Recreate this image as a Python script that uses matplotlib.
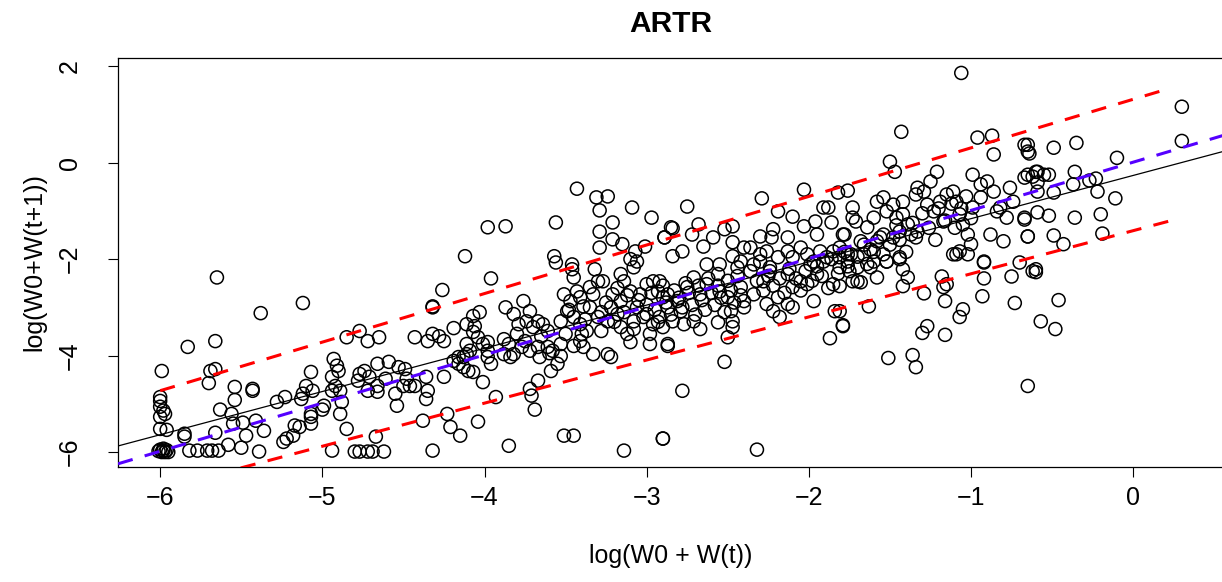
import numpy as np
import matplotlib.pyplot as plt

plt.rcParams["font.family"] = ["Liberation Sans", "DejaVu Sans"]
plt.rcParams["lines.scale_dashes"] = False

title = "ARTR"
x_label = "log(W0 + W(t))"
y_label = "log(W0+W(t+1))"
x_ticks = [-6, -5, -4, -3, -2, -1, 0]
y_ticks = [-6, -4, -2, 0, 2]

# (intercept, slope) of the fitted lines
ols_fit = (-0.265, 0.896)
median_fit = (0.010, 0.999)
upper_fit = (1.314, 1.007)
lower_fit = (-1.41, 0.894)
band_range = (-6.0, 0.23)

obs_far_left = [
    (-5.65, -2.38), (-5.38, -3.12), (-5.12, -2.91), (-5.83, -3.82), (-5.66, -3.70), (-5.99, -4.32),
    (-5.69, -4.32), (-5.66, -4.28), (-5.70, -4.57),
    (-6.0, -4.86), (-6.0, -4.94), (-6.0, -5.06), (-5.98, -5.14), (-6.0, -5.27), (-5.97, -5.21),
    (-6.0, -5.52), (-5.96, -5.54),
    (-6.0, -5.95), (-5.99, -6.0), (-5.98, -5.97), (-5.97, -6.0), (-5.96, -5.96), (-5.95, -6.0),
    (-6.01, -5.98), (-5.98, -5.93),
    (-5.85, -5.62), (-5.85, -5.68),
    (-5.82, -5.97), (-5.77, -5.97), (-5.71, -5.97), (-5.68, -5.97), (-5.64, -5.97),
    (-5.66, -5.60), (-5.63, -5.12),
    (-5.56, -5.21), (-5.55, -5.41), (-5.54, -4.65), (-5.54, -4.92), (-5.49, -5.39), (-5.47, -5.66),
    (-5.58, -5.85), (-5.50, -5.91),
    (-5.43, -4.69), (-5.43, -4.73),
    (-5.41, -5.35), (-5.36, -5.56), (-5.39, -5.99),
    (-5.28, -4.96), (-5.23, -4.86),
    (-5.24, -5.79), (-5.22, -5.72), (-5.18, -5.66), (-5.17, -5.45),
    (-5.13, -4.90), (-5.10, -4.63), (-5.07, -4.34), (-5.07, -5.27), (-5.07, -5.41),
    (-5.06, -4.73), (-5.12, -4.79), (-5.07, -5.21), (-5.14, -5.48),
]

obs_left = [
    (-4.12, -1.94), (-3.96, -2.40), (-4.26, -2.64), (-4.32, -2.98), (-4.32, -3.0),
    (-4.85, -3.62), (-4.77, -3.49), (-4.72, -3.70), (-4.65, -3.62),
    (-4.43, -3.62), (-4.35, -3.70), (-4.32, -3.55), (-4.28, -3.60), (-4.25, -3.70), (-4.19, -3.43),
    (-4.11, -3.35), (-4.07, -3.18), (-4.03, -3.10), (-4.06, -3.39), (-4.07, -3.51), (-4.04, -3.62),
    (-4.01, -3.76), (-3.98, -3.72), (-3.98, -3.90),
    (-4.93, -4.07), (-4.91, -4.21), (-4.90, -4.32), (-4.94, -4.44),
    (-4.94, -4.73), (-4.92, -4.63), (-4.89, -4.73), (-4.88, -4.96), (-4.89, -5.21), (-4.99, -5.04),
    (-5.0, -5.12), (-4.85, -5.52), (-4.94, -5.97),
    (-4.78, -4.52), (-4.77, -4.38), (-4.74, -4.32), (-4.66, -4.17), (-4.59, -4.13), (-4.71, -4.44),
    (-4.66, -4.63), (-4.72, -4.73), (-4.66, -4.75), (-4.61, -4.48), (-4.55, -4.79), (-4.53, -4.24),
    (-4.49, -4.28), (-4.48, -4.48), (-4.50, -4.63), (-4.46, -4.63), (-4.43, -4.63), (-4.54, -5.04),
    (-4.67, -5.68), (-4.80, -5.99), (-4.77, -5.99), (-4.72, -5.99), (-4.69, -5.99), (-4.62, -5.99),
    (-4.36, -4.44), (-4.35, -4.73), (-4.36, -4.90), (-4.25, -4.44), (-4.38, -5.35), (-4.23, -5.21),
    (-4.21, -5.48), (-4.15, -5.66), (-4.04, -5.37), (-4.32, -5.97),
    (-4.19, -4.11), (-4.16, -4.17), (-4.13, -4.24), (-4.10, -4.32), (-4.07, -4.34), (-4.01, -4.55),
    (-3.98, -4.03), (-3.96, -4.17), (-3.93, -4.86),
    (-4.11, -3.76), (-4.09, -3.90), (-4.11, -3.97), (-4.13, -4.03), (-4.16, -4.03),
]

obs_mid_left = [
    (-3.98, -1.34), (-3.87, -1.32), (-3.56, -1.24), (-3.43, -0.54),
    (-3.31, -0.72), (-3.24, -0.70), (-3.29, -0.99), (-3.21, -1.24), (-3.29, -1.43), (-3.29, -1.76),
    (-3.21, -1.59), (-3.15, -1.69), (-3.09, -0.93), (-2.97, -1.14), (-2.85, -1.34), (-2.89, -1.55),
    (-3.57, -1.94), (-3.56, -2.07), (-3.46, -2.11), (-3.07, -1.84), (-3.01, -1.74), (-3.10, -2.0),
    (-2.84, -1.94),
    (-3.46, -2.21), (-3.45, -2.38), (-3.32, -2.21), (-3.16, -2.31), (-3.08, -2.17), (-3.06, -2.05),
    (-3.85, -5.87),
    (-3.87, -3.0), (-3.82, -3.14), (-3.76, -2.87), (-3.72, -3.08), (-3.79, -3.35), (-3.74, -3.29),
    (-3.70, -3.41), (-3.67, -3.29), (-3.64, -3.35), (-3.61, -3.49),
    (-3.88, -3.66), (-3.85, -3.76), (-3.88, -3.97), (-3.84, -4.03), (-3.82, -3.97), (-3.77, -3.82),
    (-3.72, -3.90), (-3.67, -3.82), (-3.61, -3.82), (-3.66, -4.03), (-3.58, -3.90), (-3.53, -3.76),
    (-3.53, -4.01), (-3.59, -4.32), (-3.55, -4.17), (-3.67, -4.52), (-3.72, -4.69), (-3.71, -4.83),
    (-3.69, -5.12),
    (-3.51, -5.66), (-3.45, -5.66), (-3.14, -5.97), (-2.90, -5.72),
    (-3.51, -2.73), (-3.47, -2.87), (-3.49, -3.08), (-3.53, -3.29), (-3.43, -2.67), (-3.41, -2.79),
    (-3.39, -2.98), (-3.45, -3.20), (-3.41, -3.35), (-3.35, -2.58), (-3.33, -2.73), (-3.35, -3.0),
    (-3.30, -3.20), (-3.37, -3.49), (-3.41, -3.70), (-3.39, -3.82), (-3.33, -3.97), (-3.24, -3.97),
    (-3.22, -4.03), (-3.28, -3.49), (-3.24, -3.29), (-3.22, -3.0), (-3.21, -2.73), (-3.16, -2.87),
    (-3.18, -3.14), (-3.16, -3.41), (-3.12, -3.55), (-3.10, -3.72), (-3.08, -3.29), (-3.06, -3.0),
    (-3.04, -2.73), (-3.0, -2.52), (-2.96, -2.46), (-2.93, -2.67), (-2.90, -2.79), (-2.87, -3.0),
    (-2.92, -3.20), (-2.96, -3.35), (-2.98, -3.55), (-2.98, -3.76), (-2.87, -3.76), (-3.0, -3.14),
    (-3.10, -2.67), (-3.14, -2.46), (-3.27, -2.46), (-3.30, -2.46),
    (-3.80, -3.55), (-3.75, -3.70), (-3.65, -3.60), (-3.60, -3.95), (-3.50, -3.55), (-3.45, -3.80),
    (-3.40, -3.55), (-3.38, -3.25), (-3.48, -3.05),
]

obs_core = [
    (-3.28, -3.10), (-3.25, -2.90), (-3.20, -3.30), (-3.18, -2.60), (-3.14, -3.10), (-3.12, -2.75),
    (-3.08, -3.45), (-3.05, -2.85), (-3.02, -3.20), (-3.00, -2.95), (-2.97, -2.70), (-2.95, -3.05),
    (-2.93, -3.30), (-2.90, -2.55), (-2.88, -2.90), (-2.85, -3.15), (-2.83, -2.65), (-2.80, -2.80),
    (-2.78, -3.00), (-2.76, -2.50), (-2.74, -2.70), (-2.72, -2.95), (-2.70, -3.15), (-2.68, -2.55),
    (-2.66, -2.85), (-2.64, -3.05), (-2.62, -2.40), (-2.60, -2.70), (-2.58, -2.95), (-2.56, -2.55),
    (-2.54, -2.80), (-2.52, -3.10), (-2.50, -2.45), (-2.48, -2.65), (-2.46, -2.90), (-2.44, -2.35),
    (-2.42, -2.75), (-2.40, -3.00),
    (-2.32, -2.45), (-2.28, -2.65), (-2.25, -2.35), (-2.22, -2.55), (-2.18, -2.40), (-2.15, -2.70),
    (-2.12, -2.20), (-2.08, -2.40), (-2.05, -2.65), (-2.02, -2.25), (-1.98, -2.45), (-1.95, -2.15),
    (-1.92, -2.35), (-1.88, -2.60), (-1.86, -2.00), (-1.82, -2.30), (-1.78, -1.85), (-1.75, -2.25),
    (-1.70, -1.95), (-1.66, -1.70), (-1.64, -2.10), (-1.60, -1.85), (-1.56, -1.55), (-1.54, -1.90),
    (-1.50, -1.70), (-1.46, -1.30), (-1.44, -1.60), (-1.40, -1.85), (-1.36, -1.25), (-1.34, -1.55),
    (-1.30, -1.05), (-1.26, -1.35), (-1.22, -1.60), (-1.20, -0.95), (-1.16, -1.20), (-1.12, -0.85),
    (-1.10, -1.35), (-1.06, -0.95), (-1.03, -0.70), (-1.00, -1.15),
]

obs_mid = [
    (-2.75, -0.91), (-2.29, -0.74), (-2.03, -0.56), (-1.82, -0.62), (-1.76, -0.58),
    (-2.84, -1.36), (-2.89, -1.55), (-2.72, -1.49), (-2.68, -1.28), (-2.59, -1.55), (-2.65, -1.74),
    (-2.52, -1.38), (-2.47, -1.32), (-2.78, -1.84), (-2.47, -1.65), (-2.47, -1.94),
    (-2.19, -1.01), (-2.10, -1.12), (-2.30, -1.53), (-2.22, -1.38), (-2.23, -1.55), (-2.13, -1.55),
    (-2.03, -1.32), (-1.96, -1.22), (-1.91, -0.93), (-1.88, -0.93), (-1.86, -1.24), (-1.79, -1.49),
    (-1.95, -1.49), (-1.73, -0.93), (-1.71, -1.22),
    (-2.40, -1.76), (-2.36, -1.76), (-2.30, -1.90), (-2.26, -1.84), (-2.19, -1.96), (-2.13, -1.84),
    (-2.10, -1.96), (-2.05, -1.76), (-2.01, -1.90), (-1.97, -2.05), (-1.93, -1.84), (-1.89, -1.96),
    (-1.85, -1.84), (-1.81, -1.96), (-1.76, -1.90), (-2.63, -2.11), (-2.55, -2.11), (-2.42, -2.05),
    (-2.34, -2.11), (-2.24, -2.17),
    (-2.92, -2.46), (-2.87, -2.73), (-2.90, -3.41), (-2.87, -3.80), (-2.84, -3.29), (-2.79, -3.08),
    (-2.77, -3.35), (-2.71, -3.29), (-2.67, -3.45), (-2.81, -2.87), (-2.75, -2.58), (-2.71, -2.38),
    (-2.67, -2.73), (-2.63, -2.52), (-2.56, -2.31), (-2.55, -2.67), (-2.50, -2.79),
    (-2.56, -3.31), (-2.48, -3.08), (-2.47, -3.29), (-2.47, -3.41), (-2.50, -3.62), (-2.42, -2.58),
    (-2.40, -2.87), (-2.36, -2.25), (-2.34, -2.73), (-2.30, -2.05), (-2.28, -2.46), (-2.26, -2.93),
    (-2.22, -3.08), (-2.19, -2.79), (-2.18, -3.20), (-2.13, -2.93), (-2.10, -3.0), (-2.13, -2.31),
    (-2.10, -2.58), (-2.05, -2.46), (-2.01, -2.52), (-1.97, -2.87), (-1.95, -2.31), (-1.91, -2.05),
    (-1.85, -2.52), (-1.81, -2.17), (-1.76, -2.05), (-1.73, -2.46), (-1.99, -2.11), (-2.24, -2.25),
    (-2.44, -2.17),
    (-2.52, -4.13), (-2.78, -4.73), (-2.90, -5.72), (-2.32, -5.95),
    (-1.84, -3.08), (-1.79, -3.37), (-1.87, -3.64),
]

obs_right = [
    (-1.06, 1.86), (-1.43, 0.64), (-1.50, 0.02), (-1.47, -0.19),
    (-0.96, 0.52), (-0.87, 0.56), (-0.86, 0.17), (-0.67, 0.37), (-0.65, 0.23),
    (-1.73, -1.14), (-1.78, -1.49), (-1.64, -1.34), (-1.60, -1.14), (-1.58, -0.81), (-1.54, -0.72),
    (-1.52, -1.01), (-1.48, -0.87), (-1.46, -1.14), (-1.42, -0.81), (-1.42, -1.07), (-1.39, -1.28),
    (-1.44, -1.43), (-1.48, -1.55), (-1.54, -1.49), (-1.58, -1.63), (-1.62, -1.80), (-1.68, -1.63),
    (-1.74, -1.90), (-1.81, -1.76), (-1.66, -1.90), (-1.60, -2.05), (-1.52, -2.05), (-1.44, -1.96),
    (-1.37, -1.49), (-1.33, -1.43), (-1.33, -0.52), (-1.34, -0.66), (-1.29, -0.60), (-1.25, -0.39),
    (-1.21, -0.19), (-1.27, -0.87), (-1.23, -1.01), (-1.19, -0.81), (-1.17, -1.22), (-1.15, -0.66),
    (-1.11, -0.60), (-1.09, -0.81), (-1.07, -1.07), (-1.05, -1.28), (-1.02, -1.49), (-1.0, -1.69),
    (-1.07, -1.84), (-1.11, -1.90), (-0.99, -0.25), (-0.94, -0.45), (-0.90, -0.39), (-0.86, -0.60),
    (-0.82, -0.93), (-0.78, -1.14), (-0.76, -0.52), (-0.74, -0.81), (-0.84, -1.01), (-0.88, -1.49),
    (-0.80, -1.63), (-0.67, -1.14), (-0.65, -1.53), (-0.92, -2.05), (-0.94, -0.72), (-0.99, -0.93),
    (-1.76, -2.15), (-1.70, -2.17), (-1.70, -2.46), (-1.68, -2.48), (-1.62, -2.17), (-1.58, -2.38),
    (-1.52, -2.05), (-1.44, -2.0), (-1.42, -2.21), (-1.39, -2.38), (-1.81, -2.56), (-1.42, -2.56),
    (-1.81, -3.08), (-1.79, -3.39), (-1.63, -2.98), (-1.29, -2.71), (-1.18, -2.36), (-1.15, -2.52),
    (-1.17, -2.58), (-1.16, -2.87), (-1.07, -3.20), (-1.05, -3.04), (-1.27, -3.39), (-1.30, -3.53),
    (-1.16, -3.57), (-1.51, -4.05), (-1.36, -3.99), (-1.34, -4.24), (-0.92, -2.07), (-0.92, -2.40),
    (-0.93, -2.77), (-0.75, -2.36), (-0.70, -2.07), (-0.73, -2.91), (-0.62, -2.25), (-0.65, -4.63),
    (-1.09, -1.90), (-1.02, -1.90),
]

obs_far_right = [
    (0.30, 1.16), (0.30, 0.45), (-0.10, 0.10),
    (-0.65, 0.37), (-0.64, 0.19), (-0.49, 0.31), (-0.35, 0.41),
    (-0.59, -0.19), (-0.62, -0.29), (-0.55, -0.25), (-0.52, -0.25), (-0.59, -0.41), (-0.59, -0.60),
    (-0.49, -0.62), (-0.36, -0.19), (-0.37, -0.45), (-0.27, -0.37), (-0.23, -0.33), (-0.22, -0.60),
    (-0.11, -0.74), (-0.65, -0.25), (-0.67, -0.31), (-0.60, -0.19),
    (-0.59, -1.03), (-0.52, -1.10), (-0.36, -1.14), (-0.20, -1.07), (-0.67, -1.18), (-0.65, -1.53),
    (-0.49, -1.51), (-0.43, -1.69), (-0.19, -1.47), (-0.60, -2.21),
    (-0.60, -2.27), (-0.46, -2.85), (-0.57, -3.29), (-0.48, -3.45),
]

obs = np.array(obs_far_left + obs_left + obs_mid_left + obs_core + obs_mid
               + obs_right + obs_far_right)

fig = plt.figure(figsize=(12.22, 5.82), dpi=100)
ax = fig.add_axes([118 / 1222, 115 / 582, 1106 / 1222, 409 / 582])

ax.scatter(obs[:, 0], obs[:, 1], s=88, facecolors="none", edgecolors="black",
           linewidths=1.1, zorder=2)

ax.axline((0, ols_fit[0]), slope=ols_fit[1], color="black", lw=0.9, zorder=3)
ax.axline((0, median_fit[0]), slope=median_fit[1], color="#5500FF", lw=2.2,
          dashes=(11, 9), zorder=3)
bx = np.array(band_range)
for a, b in (upper_fit, lower_fit):
    ax.plot(bx, a + b * bx, color="#FF0000", lw=2.2, dashes=(11, 9), zorder=3)

ax.set_xlim(-6.26, 0.56)
ax.set_ylim(-6.31, 2.17)
ax.set_xticks(x_ticks)
ax.set_yticks(y_ticks)
ax.tick_params(direction="out", length=7, width=0.8, labelsize=18, color="black")
ax.tick_params(axis="x", pad=7)
ax.tick_params(axis="y", pad=19, labelrotation=90)
for lab in ax.get_yticklabels():
    lab.set_verticalalignment("center")
for s in ax.spines.values():
    s.set_linewidth(0.9)

ax.set_title(title, fontsize=21.5, fontweight="bold", pad=19)
ax.set_xlabel(x_label, fontsize=18, labelpad=24)
ax.set_ylabel(y_label, fontsize=18, labelpad=8)

fig.savefig("out.png", dpi=100)
